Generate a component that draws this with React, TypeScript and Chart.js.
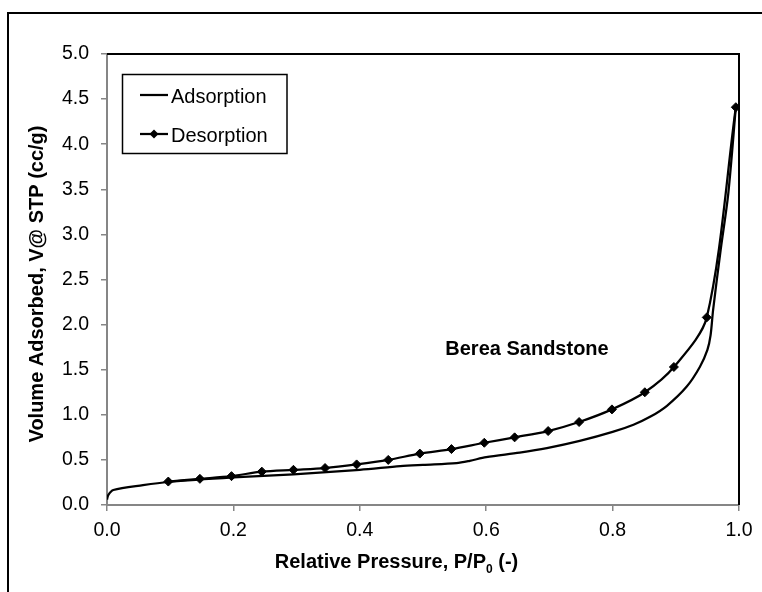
import { useEffect, useRef } from 'react';
import { Chart, registerables } from 'chart.js';

Chart.register(...registerables);

const FONT = "'Liberation Sans', Arial, Helvetica, sans-serif";

// Adsorption branch (no markers)
const adsorptionX = [0, 0.002, 0.01, 0.057, 0.097, 0.2, 0.295, 0.4, 0.464, 0.5, 0.553, 0.574, 0.6, 0.653, 0.696, 0.748, 0.8, 0.833, 0.86, 0.886, 0.917, 0.938, 0.95, 0.955, 0.959, 0.971, 0.983, 0.995];
const adsorptionY = [0.06, 0.11, 0.166, 0.22, 0.255, 0.305, 0.34, 0.39, 0.43, 0.445, 0.465, 0.49, 0.53, 0.58, 0.63, 0.71, 0.81, 0.89, 0.98, 1.1, 1.31, 1.53, 1.72, 1.88, 2.16, 2.83, 3.45, 4.41];

// Desorption branch (diamond markers)
const desorptionX = [0.097, 0.147, 0.197, 0.245, 0.295, 0.345, 0.395, 0.445, 0.495, 0.545, 0.597, 0.645, 0.698, 0.747, 0.799, 0.851, 0.897, 0.949, 0.995];
const desorptionY = [0.26, 0.29, 0.32, 0.37, 0.39, 0.41, 0.45, 0.5, 0.57, 0.62, 0.69, 0.75, 0.82, 0.92, 1.06, 1.25, 1.53, 2.08, 4.41];

const seriesNames = ['Adsorption', 'Desorption'];
const annotationText = 'Berea Sandstone';
const xTitleMain = 'Relative Pressure, P/P';
const xTitleSub = '0';
const xTitleEnd = ' (-)';
const yTitle = 'Volume Adsorbed, V@ STP (cc/g)';

const xMin = 0, xMax = 1, xStep = 0.2;
const yMin = 0, yMax = 5, yStep = 0.5;

const decorPlugin = {
  id: 'decor',
  afterDraw(chart: any) {
    const ctx = chart.ctx as CanvasRenderingContext2D;
    const { left, right, top, bottom } = chart.chartArea;
    ctx.save();
    // outer chart border
    ctx.strokeStyle = '#000';
    ctx.lineWidth = 2;
    ctx.strokeRect(8, 13, 800, 700);
    // top & right plot border
    ctx.beginPath();
    ctx.moveTo(left, top);
    ctx.lineTo(right, top);
    ctx.lineTo(right, bottom);
    ctx.stroke();

    // legend
    ctx.lineWidth = 1.5;
    ctx.strokeRect(122.5, 74.5, 164.5, 79);
    ctx.lineWidth = 2.25;
    ctx.beginPath();
    ctx.moveTo(140, 95);
    ctx.lineTo(168, 95);
    ctx.stroke();
    ctx.beginPath();
    ctx.moveTo(140, 134);
    ctx.lineTo(168, 134);
    ctx.stroke();
    ctx.fillStyle = '#000';
    ctx.beginPath();
    ctx.moveTo(154, 129.5);
    ctx.lineTo(158.5, 134);
    ctx.lineTo(154, 138.5);
    ctx.lineTo(149.5, 134);
    ctx.closePath();
    ctx.fill();
    ctx.font = `20px ${FONT}`;
    ctx.textAlign = 'left';
    ctx.textBaseline = 'alphabetic';
    ctx.fillText(seriesNames[0], 171, 103);
    ctx.fillText(seriesNames[1], 171, 142);

    // annotation
    ctx.font = `bold 20px ${FONT}`;
    ctx.textAlign = 'center';
    ctx.fillText(annotationText, 527, 355);

    // x title with subscript
    ctx.textAlign = 'left';
    const mainFont = `bold 20px ${FONT}`;
    const subFont = `bold 12px ${FONT}`;
    ctx.font = mainFont;
    const w1 = ctx.measureText(xTitleMain).width;
    const w3 = ctx.measureText(xTitleEnd).width;
    ctx.font = subFont;
    const w2 = ctx.measureText(xTitleSub).width;
    const total = w1 + w2 + w3;
    let x = 396.5 - total / 2;
    ctx.font = mainFont;
    ctx.fillText(xTitleMain, x, 568);
    x += w1;
    ctx.font = subFont;
    ctx.fillText(xTitleSub, x, 573);
    x += w2;
    ctx.font = mainFont;
    ctx.fillText(xTitleEnd, x, 568);

    // y title
    ctx.translate(43, 284);
    ctx.rotate(-Math.PI / 2);
    ctx.textAlign = 'center';
    ctx.font = mainFont;
    ctx.fillText(yTitle, 0, 0);
    ctx.restore();
  },
};

export default function App() {
  const ref = useRef<HTMLCanvasElement | null>(null);
  useEffect(() => {
    if (!ref.current) return;
    const tickFont = { family: FONT, size: 19.5 };
    const chart = new Chart(ref.current, {
      type: 'line',
      data: {
        datasets: [
          {
            label: seriesNames[0],
            data: adsorptionX.map((x, i) => ({ x, y: adsorptionY[i] })),
            borderColor: '#000',
            borderWidth: 2.25,
            pointRadius: 0,
            tension: 0.3,
            fill: false,
          },
          {
            label: seriesNames[1],
            data: desorptionX.map((x, i) => ({ x, y: desorptionY[i] })),
            borderColor: '#000',
            backgroundColor: '#000',
            borderWidth: 2.25,
            pointStyle: 'rectRot',
            pointRadius: 4.5,
            pointBorderWidth: 1,
            pointBackgroundColor: '#000',
            pointBorderColor: '#000',
            tension: 0.3,
            fill: false,
          },
        ],
      },
      options: {
        responsive: false,
        animation: false,
        layout: { padding: { top: 54, right: 23, left: 0, bottom: 0 } },
        plugins: { legend: { display: false }, tooltip: { enabled: false } },
        scales: {
          x: {
            type: 'linear',
            min: xMin,
            max: xMax,
            ticks: {
              stepSize: xStep,
              callback: (v: any) => Number(v).toFixed(1),
              font: tickFont,
              color: '#000',
              padding: 8,
              maxRotation: 0,
              autoSkip: false,
            },
            grid: { display: true, drawOnChartArea: false, drawTicks: true, tickLength: 6, color: '#868686', lineWidth: 1.5 },
            border: { display: true, color: '#868686', width: 2 },
            afterFit: (s: any) => { s.height = 87; },
          },
          y: {
            type: 'linear',
            min: yMin,
            max: yMax,
            ticks: {
              stepSize: yStep,
              callback: (v: any) => Number(v).toFixed(1),
              font: tickFont,
              color: '#000',
              padding: 12,
              autoSkip: false,
            },
            grid: { display: true, drawOnChartArea: false, drawTicks: true, tickLength: 6, color: '#868686', lineWidth: 1.5 },
            border: { display: true, color: '#868686', width: 2 },
            afterFit: (s: any) => { s.width = 107; },
          },
        },
      },
      plugins: [decorPlugin],
    } as any);
    return () => chart.destroy();
  }, []);
  return (
    <div style={{ position: 'absolute', left: 0, top: 0, width: 762, height: 592, background: '#fff' }}>
      <canvas ref={ref} width={762} height={592} style={{ width: 762, height: 592, display: 'block' }} />
    </div>
  );
}
